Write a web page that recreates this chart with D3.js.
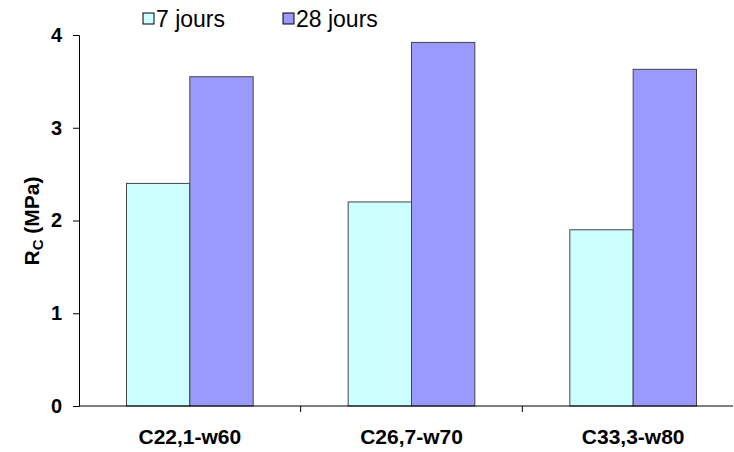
<!DOCTYPE html>
<html><head><meta charset="utf-8">
<script src="https://cdn.jsdelivr.net/npm/d3@7"></script>
<style>body{margin:0;background:#fff}svg{display:block}</style>
</head><body>
<svg id="c" width="734" height="452"></svg>
<script>
const categories = ["C22,1-w60", "C26,7-w70", "C33,3-w80"];
const seriesNames = ["7 jours", "28 jours"];
const values7 = [2.4, 2.2, 1.9];
const values28 = [3.55, 3.92, 3.63];
const yTicks = [0, 1, 2, 3, 4];
const colors = ["#CCFFFF", "#9999FF"];

const svg = d3.select("#c");
const FONT = "Liberation Sans, Arial, sans-serif";
const mLeft = 79, mRight = 744, mTop = 35, mBottom = 406;
const x = d3.scaleBand().domain(categories).range([mLeft, mRight]).paddingInner(0).paddingOuter(0);
const xs = d3.scaleBand().domain(seriesNames).range([0, x.bandwidth()]).paddingInner(0).paddingOuter(0.75);
const y = d3.scaleLinear().domain([0, 4]).range([mBottom, mTop]);

const data = categories.map((c, i) => ({c, vals: [values7[i], values28[i]]}));
const g = svg.append("g");
data.forEach(d => {
  d.vals.forEach((v, j) => {
    g.append("rect")
      .attr("x", x(d.c) + xs(seriesNames[j]))
      .attr("y", y(v))
      .attr("width", xs.bandwidth())
      .attr("height", y(0) - y(v))
      .attr("fill", colors[j])
      .attr("stroke", "#444")
      .attr("stroke-width", 1);
  });
});

// y axis
const ya = svg.append("g").attr("transform", `translate(${mLeft},0)`)
  .call(d3.axisLeft(y).tickValues(yTicks).tickFormat(d3.format("d")).tickSize(6).tickPadding(11));
ya.select(".domain").attr("stroke", "#000");
ya.selectAll("text").attr("font-family", FONT).attr("font-size", 20).attr("font-weight", "bold").attr("fill", "#000");

// x axis
const xa = svg.append("g").attr("transform", `translate(0,${mBottom})`)
  .call(d3.axisBottom(x).tickSize(0).tickPadding(23));
xa.select(".domain").remove();
xa.append("line").attr("x1", mLeft).attr("x2", 733).attr("y1", 0).attr("y2", 0).attr("stroke", "#000");
xa.selectAll("text").attr("font-family", FONT).attr("font-size", 21).attr("font-weight", "bold").attr("fill", "#000");
categories.slice(1).forEach(c => {
  xa.append("line").attr("x1", x(c)).attr("x2", x(c)).attr("y1", 0).attr("y2", 6).attr("stroke", "#000");
});

// y title
svg.append("text")
  .attr("transform", "translate(39,221) rotate(-90)")
  .attr("text-anchor", "middle")
  .attr("font-family", FONT)
  .attr("font-size", 21).attr("font-weight", "bold")
  .call(t => {
    t.append("tspan").text("R");
    t.append("tspan").attr("font-size", 15).attr("dy", 4).text("C");
    t.append("tspan").attr("dy", -4).text(" (MPa)");
  });

// legend
const legX = [143, 283];
seriesNames.forEach((s, i) => {
  svg.append("rect").attr("x", legX[i]).attr("y", 13).attr("width", 11).attr("height", 11)
    .attr("fill", colors[i]).attr("stroke", "#000").attr("stroke-width", 1);
  svg.append("text").attr("x", legX[i] + 13).attr("y", 27)
    .attr("font-family", FONT).attr("font-size", 23)
    .text(s);
});
</script>
</body></html>
